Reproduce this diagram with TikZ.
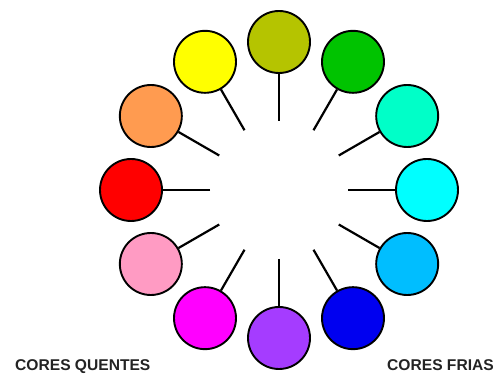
\documentclass[tikz,border=0pt]{standalone}
\usepackage{fontspec}
\setmainfont{Liberation Sans}
\usetikzlibrary{calc}
\definecolor{cOlive}{RGB}{181,196,0}
\definecolor{cGreen}{RGB}{0,195,0}
\definecolor{cTeal}{RGB}{0,255,200}
\definecolor{cCyan}{RGB}{0,255,255}
\definecolor{cSky}{RGB}{0,190,255}
\definecolor{cBlue}{RGB}{0,0,240}
\definecolor{cPurple}{RGB}{165,60,255}
\definecolor{cMagenta}{RGB}{255,0,255}
\definecolor{cPink}{RGB}{255,155,195}
\definecolor{cRed}{RGB}{255,0,0}
\definecolor{cOrange}{RGB}{255,155,80}
\definecolor{cYellow}{RGB}{255,255,0}
\definecolor{txt}{RGB}{35,35,35}
\tikzset{
  swatch/.style={circle, draw=black, line width=1.9pt, minimum size=62pt, inner sep=0pt, fill=#1},
  stick/.style={line width=2.2pt, draw=black},
  lbl/.style={font=\bfseries\fontsize{15.6}{15.6}\selectfont, text=txt, inner sep=0pt, anchor=base west}
}
\begin{document}
\begin{tikzpicture}[x=1pt,y=1pt]
\useasboundingbox (0,0) rectangle (495,374);
\coordinate (c) at (279,184);
\foreach \ang/\col/\nm in {90/cOlive/olive, 60/cGreen/green, 30/cTeal/teal, 0/cCyan/cyan,
  -30/cSky/sky, -60/cBlue/blue, -90/cPurple/purple, -120/cMagenta/magenta,
  -150/cPink/pink, 180/cRed/red, 150/cOrange/orange, 120/cYellow/yellow}{
  \node[swatch=\col] (\nm) at ($(c)+(\ang:148)$) {};
  \coordinate (in-\nm) at ($(c)+(\ang:69)$);
  \draw[stick] (in-\nm) -- (\nm);
}
\node[lbl] (quentes) at (15,3) {CORES QUENTES};
\node[lbl] (frias) at (387,3) {CORES FRIAS};
\end{tikzpicture}
\end{document}
